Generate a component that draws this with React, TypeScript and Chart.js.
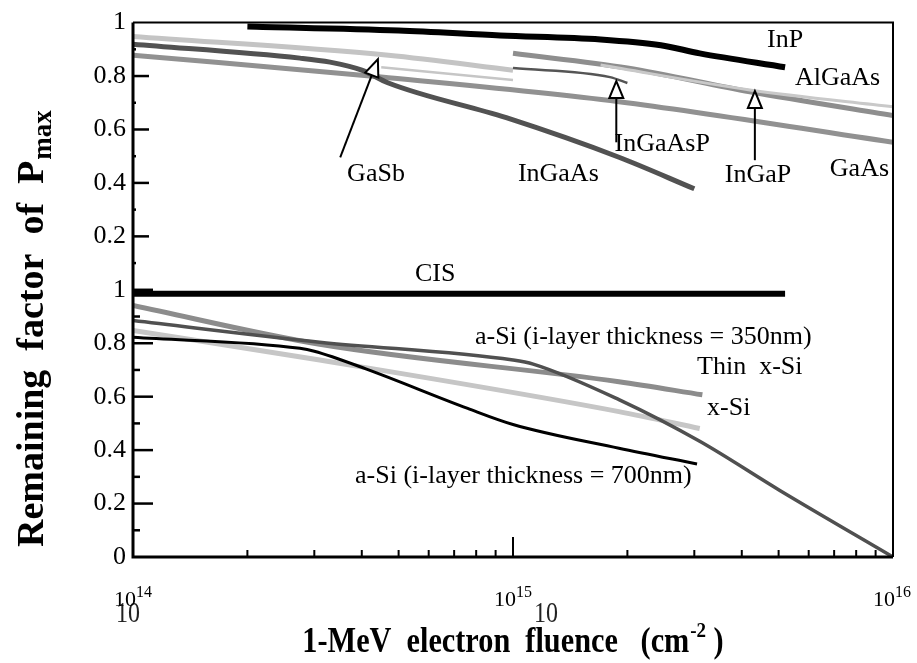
import React, { useEffect, useRef } from 'react';
import { Chart, registerables } from 'chart.js';

Chart.register(...registerables);

type P = [number, number];

// ---- Upper panel (III-V cells): [1-MeV electron fluence (cm^-2), remaining factor of Pmax]
const inP: P[] = [[2e14, 0.985], [5e14, 0.970], [9.25e14, 0.952], [1.7e15, 0.937], [2.45e15, 0.915], [3.1e15, 0.885], [5.2e15, 0.833]];
const alGaAsLow: P[] = [[1e14, 0.948], [4.7e14, 0.878], [1e15, 0.822]];
const gaSb: P[] = [[4.5e14, 0.833], [1e15, 0.785]];
const inGaP: P[] = [[1e15, 0.885], [2e15, 0.830], [4.2e15, 0.741], [1e16, 0.652]];
const alGaAs: P[] = [[1.7e15, 0.841], [4.2e15, 0.748], [1e16, 0.685]];
const inGaAsP: P[] = [[1e15, 0.830], [1.8e15, 0.796], [2e15, 0.774]];
const gaAs: P[] = [[1e14, 0.878], [4.5e14, 0.796], [1.9e15, 0.704], [1e16, 0.552]];
const inGaAs: P[] = [[1e14, 0.919], [2.75e14, 0.867], [3.3e14, 0.852], [4e14, 0.822], [4.7e14, 0.774], [9.6e14, 0.644], [1.9e15, 0.496], [3e15, 0.378]];

// ---- Lower panel (CIS, Si cells)
const cis: P[] = [[1e14, 0.985], [5.2e15, 0.985]];
const thinXSi: P[] = [[1e14, 0.941], [3.1e14, 0.796], [1.9e15, 0.656], [3.15e15, 0.607]];
const xSi: P[] = [[1e14, 0.848], [3.1e14, 0.737], [1.9e15, 0.544], [3.1e15, 0.481]];
const aSi700: P[] = [[1e14, 0.822], [2.75e14, 0.781], [3e14, 0.770], [4.1e14, 0.704], [7.6e14, 0.556], [1e15, 0.496], [1.9e15, 0.407], [3.05e15, 0.348]];
const aSi350: P[] = [[1e14, 0.885], [3.1e14, 0.804], [1e15, 0.737], [1.13e15, 0.722], [1.9e15, 0.589], [3.1e15, 0.433], [5.05e15, 0.248], [1e16, 0]];

// ---- Axis ticks
const xExponents = [14, 15, 16];
const yStep = 0.2;

// ---- Annotation labels (x: fluence, y: position on the stacked 0..2 axis)
const labelTexts = ['InP', 'AlGaAs', 'GaAs', 'InGaP', 'InGaAsP', 'InGaAs', 'GaSb', 'CIS',
  'a-Si (i-layer thickness = 350nm)', 'Thin  x-Si', 'x-Si', 'a-Si (i-layer thickness = 700nm)'];
const labelX = [4.66e15, 5.52e15, 6.82e15, 3.61e15, 1.85e15, 1.03e15, 3.66e14, 5.52e14, 7.94e14, 3.05e15, 3.24e15, 3.84e14];
const labelY = [1.933, 1.793, 1.452, 1.430, 1.544, 1.433, 1.433, 1.059, 0.822, 0.711, 0.556, 0.304];

// ---- Arrows (tail -> tip)
const arrowFrom: P[] = [[3.51e14, 1.496], [1.87e15, 1.552], [4.33e15, 1.485]];
const arrowTo: P[] = [[4.41e14, 1.863], [1.87e15, 1.781], [4.33e15, 1.744]];

const SERIF = '"Liberation Serif", "Times New Roman", serif';

function upper(d: P[]) { return d.map(([x, y]) => ({ x, y: y + 1 })); }
function lower(d: P[]) { return d.map(([x, y]) => ({ x, y })); }

function ds(data: { x: number; y: number }[], color: string, width: number) {
  return {
    data,
    borderColor: color,
    backgroundColor: color,
    borderWidth: width,
    pointRadius: 0,
    fill: false,
    borderCapStyle: 'butt' as const,
    cubicInterpolationMode: 'monotone' as const,
  };
}

const overlay = {
  id: 'overlay',
  afterDatasetsDraw(chart: any) {
    const { ctx, chartArea: a, scales } = chart;
    const x = scales.x, y = scales.y;
    ctx.save();
    ctx.strokeStyle = '#000';
    ctx.fillStyle = '#000';
    ctx.lineCap = 'butt';

    // frame
    ctx.lineWidth = 3;
    ctx.beginPath();
    ctx.moveTo(a.left, a.top);
    ctx.lineTo(a.left, a.bottom);
    ctx.lineTo(a.right, a.bottom);
    ctx.stroke();
    ctx.lineWidth = 2;
    ctx.beginPath();
    ctx.moveTo(a.left, a.top);
    ctx.lineTo(a.right, a.top);
    ctx.lineTo(a.right, a.bottom);
    ctx.stroke();

    // y ticks (inward)
    ctx.lineWidth = 2.5;
    for (let i = 1; i < 20; i++) {
      const v = i / 10;
      const major = i % 2 === 0;
      const low = v <= 1;
      const len = major ? (low ? 20 : 16) : (low ? 7 : 3);
      const py = y.getPixelForValue(v);
      ctx.beginPath();
      ctx.moveTo(a.left, py);
      ctx.lineTo(a.left + len, py);
      ctx.stroke();
    }
    // x ticks (inward)
    ctx.lineWidth = 2;
    for (const n of [14, 15]) {
      for (let k = 1; k <= 9; k++) {
        const val = k * Math.pow(10, n);
        if (val === 1e14) continue;
        const px = x.getPixelForValue(val);
        const len = k === 1 ? 20 : 7;
        ctx.beginPath();
        ctx.moveTo(px, a.bottom);
        ctx.lineTo(px, a.bottom - len);
        ctx.stroke();
      }
    }

    // x tick labels 10^n
    for (const n of xExponents) {
      const px = x.getPixelForValue(Math.pow(10, n));
      ctx.font = `22px ${SERIF}`;
      const w10 = ctx.measureText('10').width;
      ctx.font = `16px ${SERIF}`;
      const we = ctx.measureText(String(n)).width;
      const total = w10 + we;
      let left = px - total / 2;
      left = Math.min(left, chart.width - 6 - total);
      ctx.textAlign = 'left';
      ctx.textBaseline = 'alphabetic';
      // ghost large "10" (as in the scanned original)
      if (n !== 16) {
        ctx.save();
        ctx.fillStyle = '#222';
        ctx.font = `30px ${SERIF}`;
        const gx = n === 14 ? left + 2 : left + total + 2;
        ctx.translate(gx, 622);
        ctx.scale(0.8, 1);
        ctx.fillText('10', 0, 0);
        ctx.restore();
      }
      ctx.font = `22px ${SERIF}`;
      ctx.fillText('10', left, 606);
      ctx.font = `16px ${SERIF}`;
      ctx.fillText(String(n), left + w10, 597);
    }

    // annotation labels
    ctx.font = `26px ${SERIF}`;
    ctx.textAlign = 'left';
    ctx.textBaseline = 'middle';
    labelTexts.forEach((t, i) => {
      ctx.fillText(t, x.getPixelForValue(labelX[i]), y.getPixelForValue(labelY[i]));
    });

    // arrows
    arrowFrom.forEach((f, i) => {
      const t = arrowTo[i];
      const x0 = x.getPixelForValue(f[0]), y0 = y.getPixelForValue(f[1]);
      const x1 = x.getPixelForValue(t[0]), y1 = y.getPixelForValue(t[1]);
      const dx = x1 - x0, dy = y1 - y0;
      const L = Math.hypot(dx, dy);
      const ux = dx / L, uy = dy / L;
      const hl = 17, hw = 7;
      const bx = x1 - ux * hl, by = y1 - uy * hl;
      ctx.lineWidth = 2;
      ctx.beginPath();
      ctx.moveTo(x0, y0);
      ctx.lineTo(bx, by);
      ctx.stroke();
      ctx.beginPath();
      ctx.moveTo(x1, y1);
      ctx.lineTo(bx - uy * hw, by + ux * hw);
      ctx.lineTo(bx + uy * hw, by - ux * hw);
      ctx.closePath();
      ctx.fillStyle = '#fff';
      ctx.fill();
      ctx.stroke();
      ctx.fillStyle = '#000';
    });

    // y axis title
    ctx.save();
    ctx.translate(43, 547);
    ctx.rotate(-Math.PI / 2);
    ctx.textAlign = 'left';
    ctx.textBaseline = 'alphabetic';
    ctx.font = `bold 38px ${SERIF}`;
    const main = 'Remaining  factor  of  P';
    ctx.fillText(main, 0, 0);
    const wm = ctx.measureText(main).width;
    ctx.font = `bold 27px ${SERIF}`;
    ctx.fillText('max', wm + 1, 8);
    ctx.restore();

    // x axis title (centred under the plot, slightly condensed like the original)
    const t1 = '1-MeV  electron  fluence   (cm';
    const sup = '-2';
    const t2 = ' )';
    const sx = 0.865;
    ctx.textAlign = 'left';
    ctx.textBaseline = 'alphabetic';
    ctx.font = `bold 35px ${SERIF}`;
    const w1 = ctx.measureText(t1).width;
    const w3 = ctx.measureText(t2).width;
    ctx.font = `bold 22px ${SERIF}`;
    const w2 = ctx.measureText(sup).width + 1;
    const totalW = (w1 + w2 + w3) * sx;
    ctx.save();
    ctx.translate((a.left + a.right) / 2 - totalW / 2, 652);
    ctx.scale(sx, 1);
    let cx = 0;
    ctx.font = `bold 35px ${SERIF}`;
    ctx.fillText(t1, cx, 0);
    cx += w1;
    ctx.font = `bold 22px ${SERIF}`;
    ctx.fillText(sup, cx + 1, -15);
    cx += w2;
    ctx.font = `bold 35px ${SERIF}`;
    ctx.fillText(t2, cx, 0);
    ctx.restore();

    ctx.restore();
  },
};

export default function App() {
  const ref = useRef<HTMLCanvasElement | null>(null);
  useEffect(() => {
    if (!ref.current) return;
    const chart = new Chart(ref.current, {
      type: 'line',
      data: {
        datasets: [
          ds(upper(inP), '#000000', 6),
          ds(upper(inGaAsP), '#555555', 2.5),
          ds(upper(alGaAs), '#c9c9c9', 3),
          ds(upper(inGaP), '#8e8e8e', 5),
          ds(upper(gaSb), '#c6c6c6', 2.5),
          ds(upper(inGaAs), '#525252', 5),
          ds(upper(alGaAsLow), '#c4c4c4', 5),
          ds(upper(gaAs), '#919191', 5),
          ds(lower(cis), '#000000', 6),
          ds(lower(aSi700), '#000000', 3),
          ds(lower(aSi350), '#505050', 3.5),
          ds(lower(thinXSi), '#8c8c8c', 5),
          ds(lower(xSi), '#c6c6c6', 5),
        ],
      },
      options: {
        responsive: false,
        animation: false,
        layout: { padding: { top: 16, right: 24, left: 0, bottom: 0 } },
        plugins: { legend: { display: false }, tooltip: { enabled: false } },
        elements: { line: { tension: 0 } },
        scales: {
          x: {
            type: 'logarithmic',
            min: 1e14,
            max: 1e16,
            ticks: { display: false },
            grid: { display: false, drawTicks: false },
            border: { display: false },
            afterFit: (s: any) => { s.height = 106; },
          },
          y: {
            type: 'linear',
            min: 0,
            max: 2,
            ticks: {
              stepSize: yStep,
              autoSkip: false,
              padding: 7,
              color: '#000',
              font: { family: SERIF, size: 26 },
              callback: (value: any) => {
                const v = Math.round(Number(value) * 10) / 10;
                const u = v > 1 ? Math.round((v - 1) * 10) / 10 : v;
                if (v > 1 && u === 0) return '';
                return u === 0 ? '0' : u === 1 ? '1' : u.toFixed(1);
              },
            },
            grid: { display: false, drawTicks: false },
            border: { display: false },
            afterFit: (s: any) => { s.width = 133; },
          },
        },
      },
      plugins: [overlay],
    });
    return () => chart.destroy();
  }, []);
  return (
    <div style={{ position: 'fixed', left: 0, top: 0, width: 917, height: 663, background: '#fff' }}>
      <canvas ref={ref} width={917} height={663} style={{ display: 'block' }} />
    </div>
  );
}
